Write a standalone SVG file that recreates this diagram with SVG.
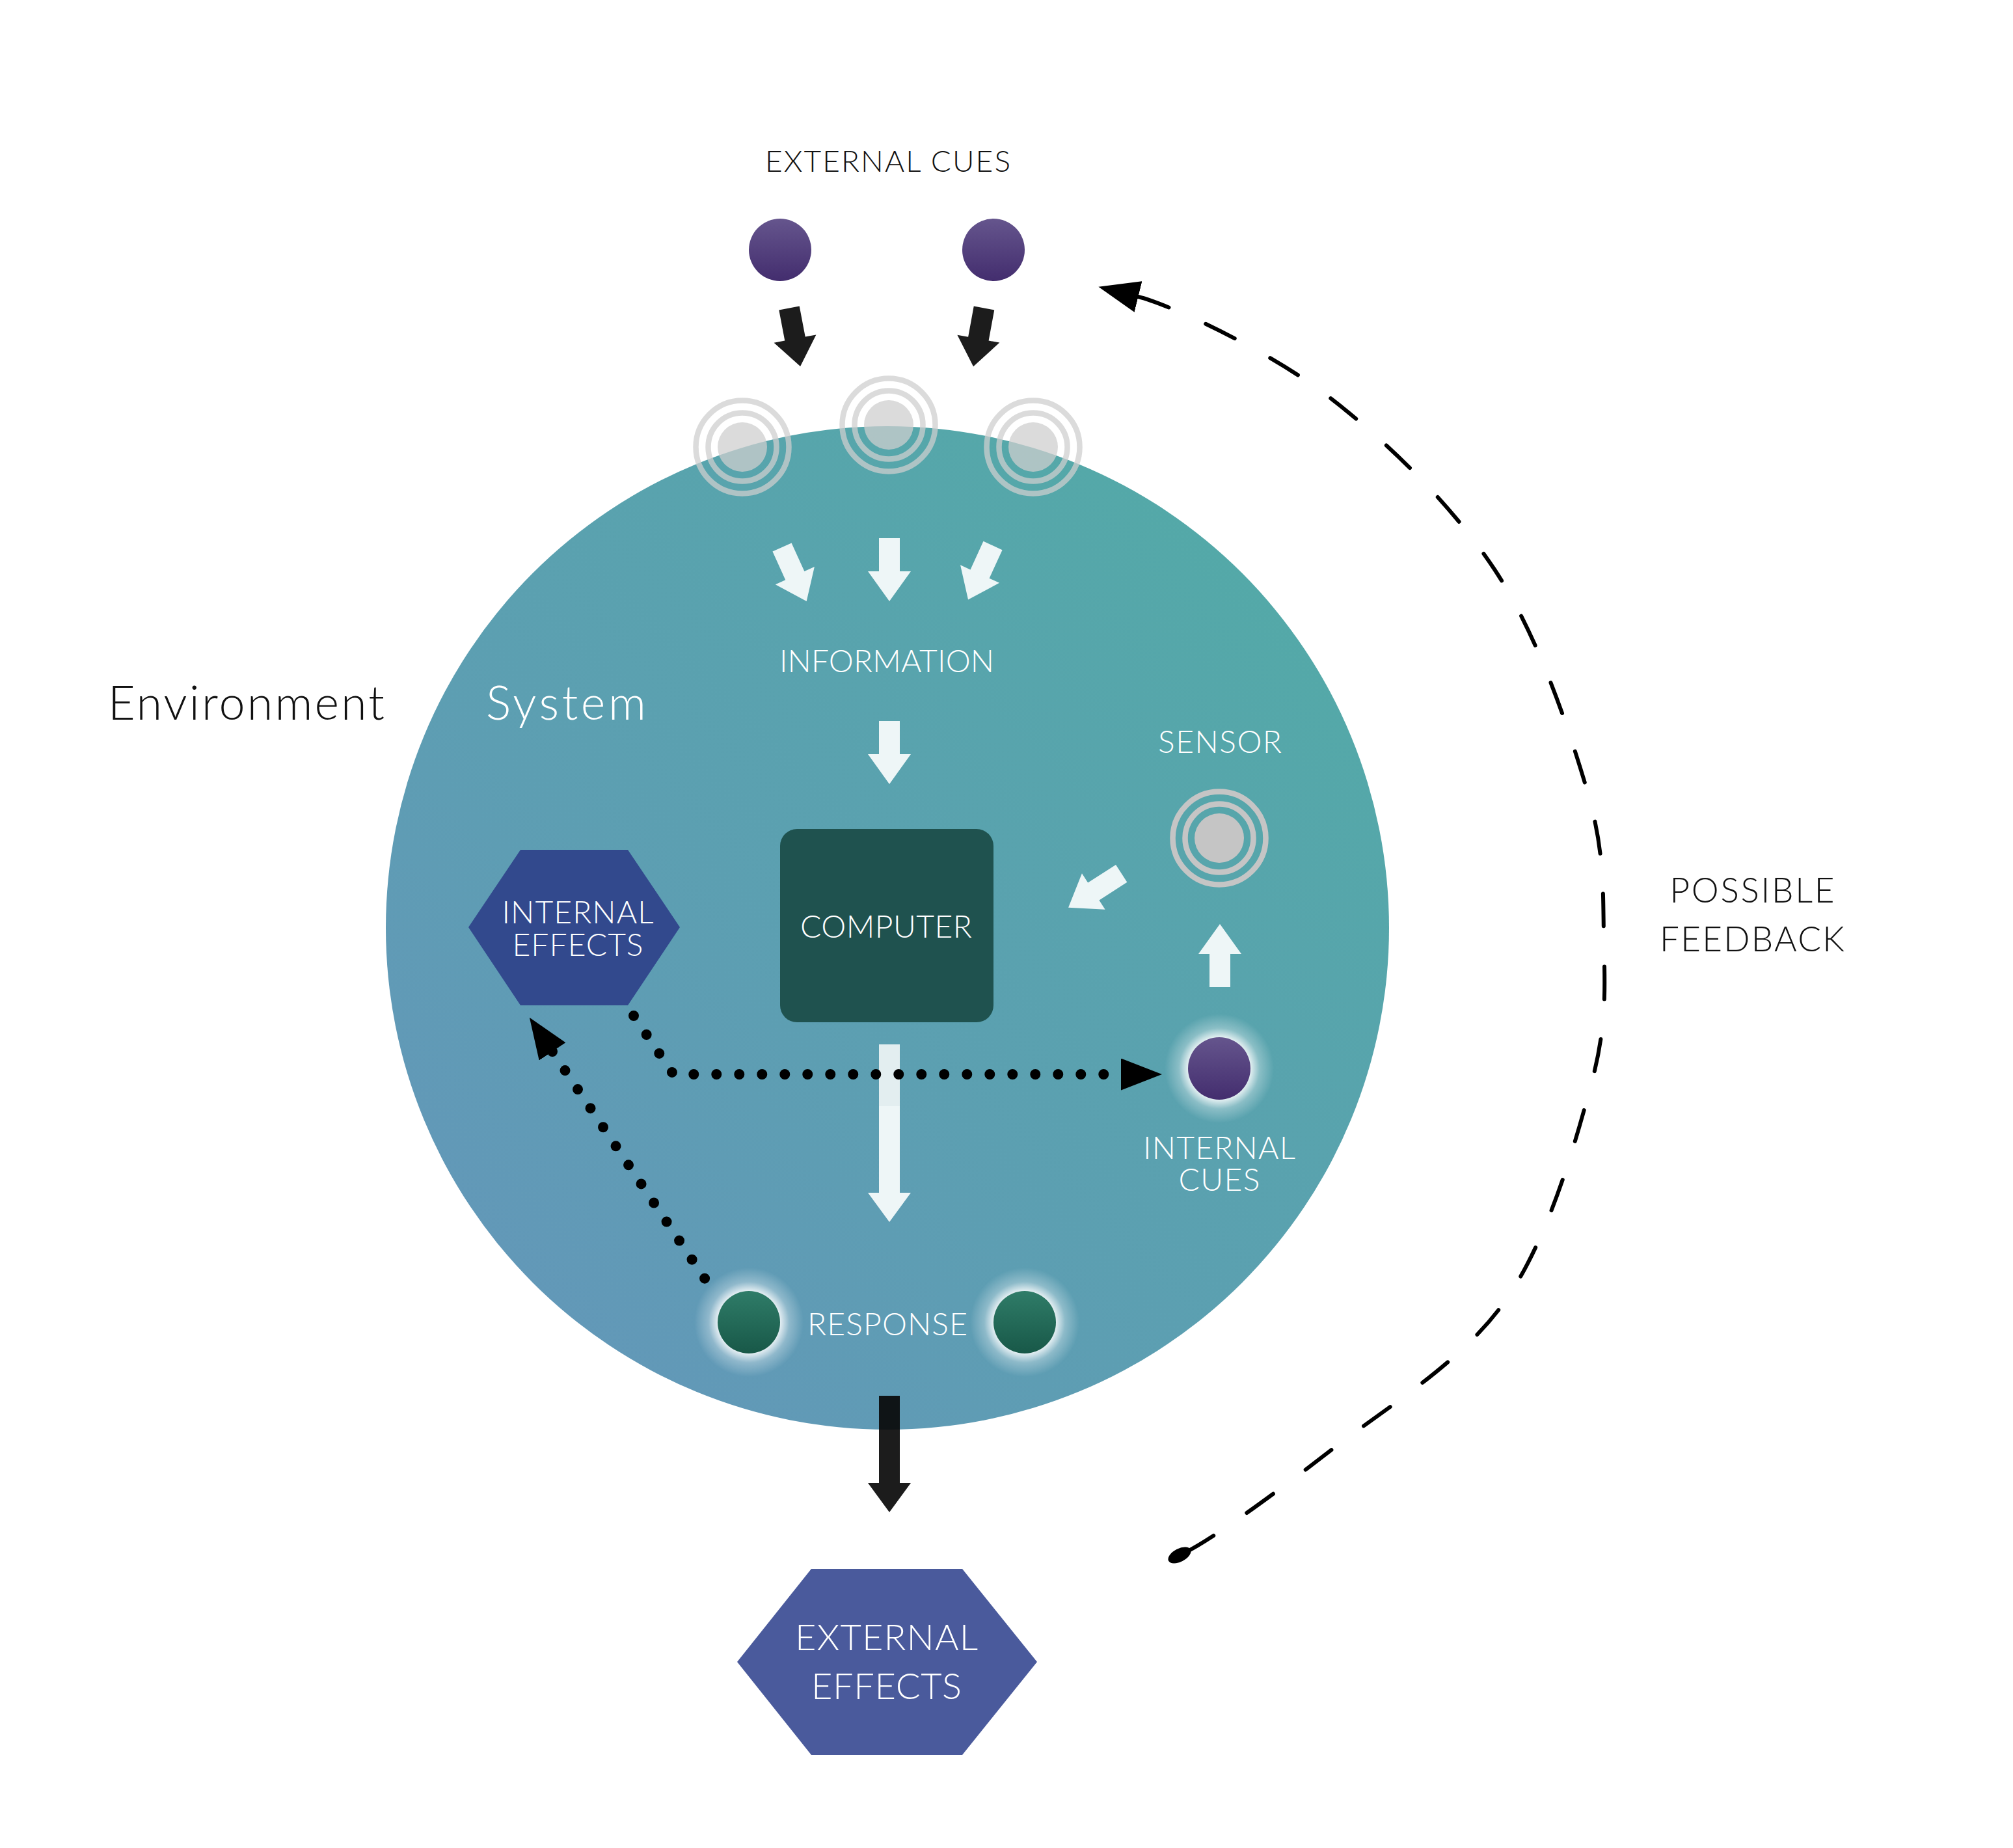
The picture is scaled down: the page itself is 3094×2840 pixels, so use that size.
<svg xmlns="http://www.w3.org/2000/svg" width="3094" height="2840" viewBox="0 0 3094 2840">
<style>
  .t { font-family: Lato, "Liberation Sans", sans-serif; font-weight: 300; }
  .c { text-anchor: middle; }
  .w { fill: #ffffff; }
  .k { fill: #111111; }
  .s48 { font-size: 48px; }
  .wa { fill: #eef6f7; }
  .ba { fill: #090909; fill-opacity: 0.92; }
  .dot { fill: none; stroke: #000; stroke-width: 16; stroke-linecap: round; stroke-dasharray: 0 35; }
  .dash { fill: none; stroke: #000; stroke-width: 6; stroke-linecap: round; stroke-dasharray: 50 62; }
  .ring { fill: none; stroke-width: 8.5; }
</style>
<defs>
  <linearGradient id="sysGrad" x1="1" y1="0" x2="0" y2="1">
    <stop offset="0" stop-color="#51aca5"/>
    <stop offset="1" stop-color="#6595bb"/>
  </linearGradient>
  <linearGradient id="purple" x1="0" y1="0" x2="0" y2="1">
    <stop offset="0" stop-color="#65558d"/>
    <stop offset="1" stop-color="#432d6e"/>
  </linearGradient>
  <linearGradient id="green" x1="0" y1="0" x2="0" y2="1">
    <stop offset="0" stop-color="#2f7c68"/>
    <stop offset="1" stop-color="#185848"/>
  </linearGradient>
  <radialGradient id="glow" cx="0.5" cy="0.5" r="0.5">
    <stop offset="0" stop-color="#ffffff" stop-opacity="0.9"/>
    <stop offset="0.58" stop-color="#ffffff" stop-opacity="0.8"/>
    <stop offset="0.74" stop-color="#ffffff" stop-opacity="0.3"/>
    <stop offset="1" stop-color="#ffffff" stop-opacity="0"/>
  </radialGradient>
  <path id="arr" d="M-16,0 H16 V51 H33 L0,97 L-33,51 H-16 Z"/>
  <marker id="ahEnd" markerUnits="userSpaceOnUse" viewBox="0 0 63 49" markerWidth="63" markerHeight="49" refX="0" refY="24.5" orient="auto">
    <path d="M0,0 L63,24.5 L0,49 Z" fill="#000"/>
  </marker>
  <marker id="ahStart" markerUnits="userSpaceOnUse" viewBox="0 0 63 49" markerWidth="63" markerHeight="49" refX="0" refY="24.5" orient="auto-start-reverse">
    <path d="M0,0 L63,24.5 L0,49 Z" fill="#000"/>
  </marker>
  <g id="rings">
    <circle r="38" fill="currentColor"/>
    <circle r="52.5" class="ring" stroke="currentColor"/>
    <circle r="71.5" class="ring" stroke="currentColor"/>
  </g>
</defs>

<rect x="0" y="0" width="3094" height="2840" fill="#ffffff"/>

<g id="system">
  <circle cx="1364" cy="1426" r="771" fill="url(#sysGrad)"/>
  <text class="t w" x="747" y="1106" font-size="72" textLength="246" lengthAdjust="spacing">System</text>
</g>

<g id="environment">
  <text class="t k" x="166" y="1106" font-size="72" textLength="425" lengthAdjust="spacing">Environment</text>
</g>

<g id="external-cues">
  <text class="t k c" x="1364.5" y="264" font-size="46" textLength="377" lengthAdjust="spacing">EXTERNAL CUES</text>
  <circle cx="1199" cy="384" r="48" fill="url(#purple)"/>
  <circle cx="1527" cy="384" r="48" fill="url(#purple)"/>
</g>

<g id="receptors" style="color:#cfcfcf" opacity="0.74">
  <use href="#rings" x="1141" y="687"/>
  <use href="#rings" x="1366" y="653"/>
  <use href="#rings" x="1588" y="687"/>
</g>

<g id="information">
  <text class="t w c s48" x="1363" y="1033" textLength="330" lengthAdjust="spacing">INFORMATION</text>
</g>

<g id="computer">
  <rect x="1199" y="1274" width="328" height="297" rx="26" fill="#1f524f"/>
  <text class="t w c s48" x="1362" y="1441" textLength="264" lengthAdjust="spacing">COMPUTER</text>
</g>

<g id="sensor">
  <text class="t w c s48" x="1875" y="1157" textLength="190" lengthAdjust="spacing">SENSOR</text>
  <use href="#rings" x="1874" y="1288" style="color:#c5c5c5"/>
</g>

<g id="internal-effects">
  <polygon points="720,1425 800,1306 965,1306 1045,1425 965,1545 800,1545" fill="#32498d"/>
  <text class="t w c s48" x="888" y="1419" textLength="233" lengthAdjust="spacing">INTERNAL</text>
  <text class="t w c s48" x="888" y="1469" textLength="201" lengthAdjust="spacing">EFFECTS</text>
</g>

<g id="internal-cues">
  <circle cx="1874" cy="1642" r="84" fill="url(#glow)"/>
  <circle cx="1874" cy="1642" r="48" fill="url(#purple)"/>
  <text class="t w c s48" x="1874" y="1781" textLength="234" lengthAdjust="spacing">INTERNAL</text>
  <text class="t w c s48" x="1874" y="1830" textLength="125" lengthAdjust="spacing">CUES</text>
</g>

<g id="response">
  <circle cx="1151" cy="2032" r="84" fill="url(#glow)"/>
  <circle cx="1575" cy="2032" r="84" fill="url(#glow)"/>
  <circle cx="1151" cy="2032" r="48" fill="url(#green)"/>
  <circle cx="1575" cy="2032" r="48" fill="url(#green)"/>
  <text class="t w c s48" x="1364" y="2052" textLength="246" lengthAdjust="spacing">RESPONSE</text>
</g>

<g id="external-effects">
  <polygon points="1133,2554 1247,2411 1479,2411 1594,2554 1479,2697 1247,2697" fill="#4a5a9c"/>
  <text class="t w c" x="1362.5" y="2536" font-size="56" textLength="281" lengthAdjust="spacing">EXTERNAL</text>
  <text class="t w c" x="1362.5" y="2611" font-size="56" textLength="231" lengthAdjust="spacing">EFFECTS</text>
</g>

<g id="feedback-label">
  <text class="t k c" x="2693" y="1387" font-size="53" textLength="253" lengthAdjust="spacing">POSSIBLE</text>
  <text class="t k c" x="2693" y="1462" font-size="53" textLength="284" lengthAdjust="spacing">FEEDBACK</text>
</g>

<g id="connectors">
  <!-- external cues to receptors -->
  <use href="#arr" class="ba" transform="translate(1213,473.5) rotate(-10.8) scale(1,0.94)"/>
  <use href="#arr" class="ba" transform="translate(1512.5,473.5) rotate(10.4) scale(1,0.94)"/>
  <!-- receptors to information -->
  <use href="#arr" class="wa" transform="translate(1202,841) rotate(-24.4) scale(1,0.94)"/>
  <use href="#arr" class="wa" transform="translate(1367,827)"/>
  <use href="#arr" class="wa" transform="translate(1526,838.5) rotate(24.6) scale(1,0.94)"/>
  <!-- information to computer -->
  <use href="#arr" class="wa" transform="translate(1367,1108)"/>
  <!-- sensor to computer -->
  <use href="#arr" class="wa" transform="translate(1723.7,1342.4) rotate(57.3)"/>
  <!-- internal cues to sensor -->
  <use href="#arr" class="wa" transform="translate(1875,1517) rotate(180)"/>
  <!-- computer to response -->
  <path class="wa" d="M1351,1605 H1383 V1833 H1400 L1367,1878 L1334,1833 H1351 Z"/>
  <rect x="1351" y="1605" width="32" height="95" fill="#e3eef0"/>
  <!-- response to external effects -->
  <path class="ba" d="M1351,2145 H1383 V2279 H1400 L1367,2324 L1334,2279 H1351 Z"/>
  <!-- dotted: internal effects to internal cues -->
  <path class="dot" d="M974,1561 L1035,1651 L1723,1651" marker-end="url(#ahEnd)"/>
  <!-- dotted: response to internal effects -->
  <path class="dot" d="M849,1616 L1090,1975" marker-start="url(#ahStart)"/>
  <!-- dashed: possible feedback -->
  <path class="dash" marker-start="url(#ahStart)" d="M1749.5,456 C1798,468 1948.75,538.2 2040,608 C2131.25,677.8 2230.7,774.7 2297,875 C2363.3,975.3 2410,1116.2 2438,1210 C2466,1303.8 2463.7,1362.2 2465,1438 C2466.3,1513.8 2471.3,1571.3 2446,1665 C2420.7,1758.7 2379.3,1906.3 2313,2000 C2246.7,2093.7 2133.5,2161 2048,2227 C1962.5,2293 1850,2376 1810,2391"/>
  <ellipse cx="1813" cy="2390" rx="19" ry="10" transform="rotate(-27 1813 2390)" fill="#000"/>
</g>
</svg>
